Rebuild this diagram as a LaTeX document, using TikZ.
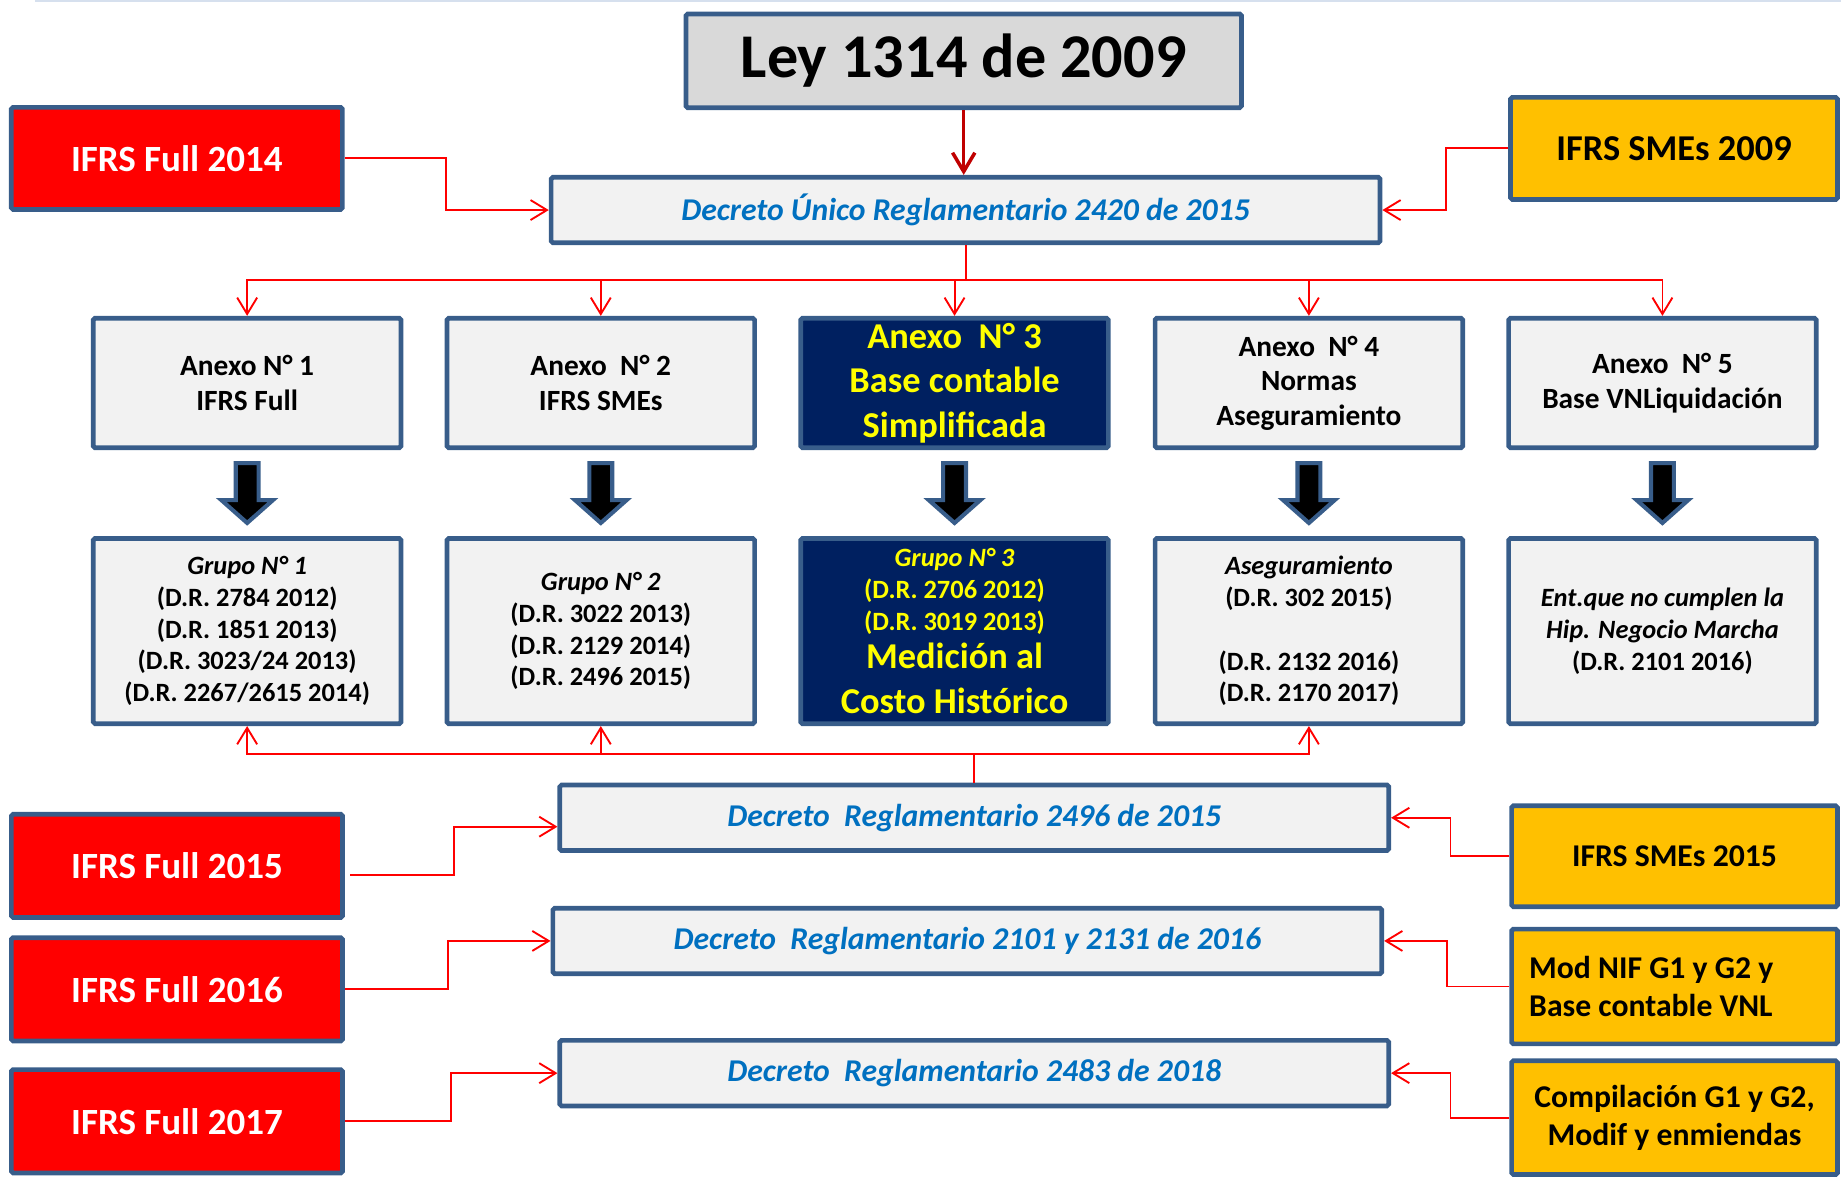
\documentclass[tikz,border=0pt]{standalone}
\usepackage{fontspec}
\setmainfont{Carlito}
\usetikzlibrary{arrows.meta}
\definecolor{bord}{HTML}{385D8A}
\definecolor{lg}{HTML}{F2F2F2}
\definecolor{leyg}{HTML}{D9D9D9}
\definecolor{ifrsred}{HTML}{FF0000}
\definecolor{orng}{HTML}{FFC000}
\definecolor{navyc}{HTML}{002060}
\definecolor{yel}{HTML}{FFFF00}
\definecolor{decblue}{HTML}{0070C0}
\definecolor{darkred}{HTML}{C00000}
\definecolor{faint}{HTML}{D6E0EE}
\begin{document}
\begin{tikzpicture}[x=1pt,y=-1pt,
  box/.style={draw=bord, line width=4pt, rounded corners=1.5pt, inner sep=0pt, align=center},
  anx/.style={box, fill=lg, minimum width=262pt, minimum height=110.4pt, font=\fontsize{25}{29.5}\selectfont\bfseries},
  grp/.style={box, fill=lg, minimum width=262pt, minimum height=157.8pt, font=\fontsize{22.5}{27}\selectfont\bfseries},
  navybox/.style={fill=navyc, text=yel},
  dec/.style={box, fill=lg, minimum width=706pt, minimum height=55.8pt, text=decblue, font=\fontsize{27}{32}\selectfont\bfseries\itshape},
  redbox/.style={box, fill=ifrsred, text=white, minimum width=282pt, minimum height=88pt, font=\fontsize{31.5}{36}\selectfont\bfseries},
  orbox/.style={box, fill=orng, text=black, minimum width=277.5pt, font=\fontsize{27}{32.5}\selectfont\bfseries},
  redline/.style={draw=ifrsred, line width=1.6pt},
  conn/.style={redline, -{Straight Barb[length=14pt,width=17pt]}},
  leyarr/.style={draw=darkred, line width=3pt, -{Straight Barb[length=16pt,width=19pt]}},
  blk/.style={draw=bord, line width=3.5pt, fill=black, line join=miter},
  topline/.style={draw=faint, line width=2pt}
]
\useasboundingbox (0,0) rectangle (1568,1004);
\draw[topline] (29.7,1) -- (1568,1);

% top
\node[box, fill=leyg, minimum width=473.2pt, minimum height=79.8pt, font=\fontsize{53}{60}\selectfont\bfseries] (ley) at (820.8,51.8) {Ley 1314 de 2009};
\node[redbox, minimum height=86.9pt] (f14) at (150.6,134.9) {IFRS Full 2014};
\node[orbox, minimum width=278.5pt, minimum height=86.9pt, font=\fontsize{31}{36}\selectfont\bfseries] (s09) at (1425.8,126.4) {IFRS SMEs 2009};
\node[dec] (du) at (822.4,178.9) {Decreto Único Reglamentario 2420 de 2015};

% anexos
\node[anx] (a1) at (210.5,326.2) {Anexo N° 1\\IFRS Full};
\node[anx] (a2) at (511.7,326.2) {Anexo\ \ N° 2\\IFRS SMEs};
\node[anx, navybox, font=\fontsize{31}{38}\selectfont\bfseries] (a3) at (813,326.2) {Anexo\ \ N° 3\\Base contable\\Simplificada};
\node[anx] (a4) at (1114.8,326.2) {Anexo\ \ N° 4\\Normas\\Aseguramiento};
\node[anx] (a5) at (1415.9,326.2) {Anexo\ \ N° 5\\Base VNLiquidación};

% grupos
\node[grp] (g1) at (210.5,537.5) {\textit{Grupo N° 1}\\(D.R. 2784 2012)\\(D.R. 1851 2013)\\(D.R. 3023/24 2013)\\(D.R. 2267/2615 2014)};
\node[grp] (g2) at (511.7,537.5) {\textit{Grupo N° 2}\\(D.R. 3022 2013)\\(D.R. 2129 2014)\\(D.R. 2496 2015)};
\node[grp, navybox] (g3) at (813,537.5) {\textit{Grupo N° 3}\\(D.R. 2706 2012)\\(D.R. 3019 2013)\\[6pt]{\fontsize{31}{37}\selectfont Medición al}\\[11pt]{\fontsize{31}{37}\selectfont Costo Histórico}};
\node[grp] (g4) at (1114.8,537.5) {\textit{Aseguramiento}\\(D.R. 302 2015)\\[27pt](D.R. 2132 2016)\\(D.R. 2170 2017)};
\node[grp] (g5) at (1415.9,537.5) {\textit{Ent.que no cumplen la}\\\textit{Hip. Negocio Marcha}\\(D.R. 2101 2016)};

% lower decrees
\node[dec] (d96) at (829.8,696.5) {Decreto\ \ Reglamentario 2496 de 2015};
\node[dec] (d01) at (823.9,801.4) {Decreto\ \ Reglamentario 2101 y 2131 de 2016};
\node[dec] (d83) at (829.8,914) {Decreto\ \ Reglamentario 2483 de 2018};

\node[redbox] (f15) at (150.7,737.5) {IFRS Full 2015};
\node[redbox] (f16) at (150.7,842.6) {IFRS Full 2016};
\node[redbox] (f17) at (150.7,955) {IFRS Full 2017};

\node[orbox, minimum height=86pt] (s15) at (1426.2,729.3) {IFRS SMEs 2015};
\node[orbox, minimum height=97.7pt, align=flush left, text width=247.5pt, inner xsep=15pt] (mod) at (1426.2,840.2) {Mod NIF G1 y G2 y\\Base contable VNL};
\node[orbox, minimum height=96.9pt] (comp) at (1426.2,951.9) {Compilación G1 y G2,\\Modif y enmiendas};

% block arrows
\foreach \n in {a1,a2,a3,a4,a5}
  \draw[blk] (\n.south) ++(-9.75,11) -- ++(19.5,0) -- ++(0,31.5) -- ++(12.25,0) -- ++(-22,19.5) -- ++(-22,-19.5) -- ++(12.25,0) -- cycle;

% connectors
\draw[leyarr] (ley.south) -- (ley.south |- du.north);

\coordinate (t0) at (0,238.5);
\draw[redline] (du.south) -- (du.south |- t0);
\draw[redline, line cap=rect] (a1.north |- t0) -- (a5.north |- t0);
\foreach \n in {a1,a2,a3,a4,a5}
  \draw[conn] (\n.north |- t0) -- (\n.north);

\coordinate (b0) at (0,642.2);
\draw[redline] (d96.north) -- (d96.north |- b0);
\draw[redline, line cap=rect] (g1.south |- b0) -- (g4.south |- b0);
\foreach \n in {g1,g2,g4}
  \draw[conn] (\n.south |- b0) -- (\n.south);

\draw[conn] (f14.east) -- (380.2,0 |- f14.east) |- (du.west);
\draw[conn] (s09.west) -- (1231.3,0 |- s09.west) |- (du.east);
\draw[conn] ([xshift=4.5pt,yshift=-7.8pt]f15.east) -- ++(88.3,0) |- ([yshift=-7.6pt]d96.west);
\draw[conn] (s15.west) -- (1235.4,0 |- s15.west) |- (d96.east);
\draw[conn] (f16.east) -- (381.3,0 |- f16.east) |- (d01.west);
\draw[conn] (mod.west) -- (1232.4,0 |- mod.west) |- (d01.east);
\draw[conn] (f17.east) -- (383.8,0 |- f17.east) |- (d83.west);
\draw[conn] (comp.west) -- (1235.4,0 |- comp.west) |- (d83.east);
\end{tikzpicture}
\end{document}
